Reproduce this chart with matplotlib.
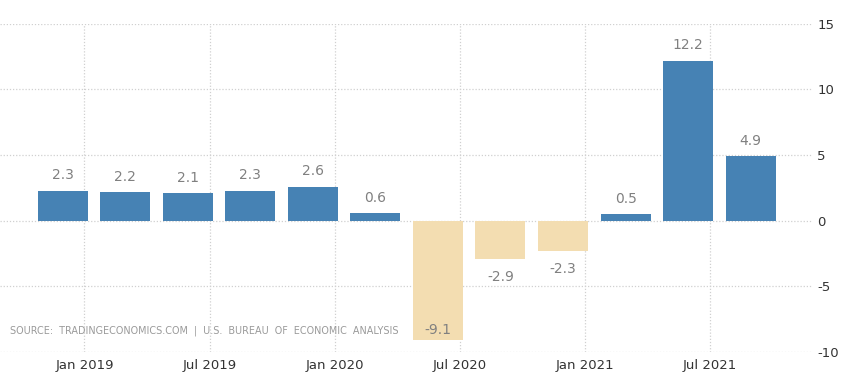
'''
US GDP annual growth rate, quarterly bars
'''
import numpy as np
import matplotlib.pyplot as plt

plt.rcParams['axes.unicode_minus'] = False

values = [2.3, 2.2, 2.1, 2.3, 2.6, 0.6, -9.1, -2.9, -2.3, 0.5, 12.2, 4.9]
tick_labels = ['Jan 2019', 'Jul 2019', 'Jan 2020', 'Jul 2020', 'Jan 2021', 'Jul 2021']
y_ticks = [-10, -5, 0, 5, 10, 15]
source = 'SOURCE:  TRADINGECONOMICS.COM  |  U.S.  BUREAU  OF  ECONOMIC  ANALYSIS'

pos_color = '#4682b4'
neg_color = '#f3ddb1'

x = np.arange(len(values))
colors = [pos_color if v >= 0 else neg_color for v in values]

fig = plt.figure(figsize=(8.67, 3.87), dpi=100)
ax = fig.add_axes([0.0, 0.0904, 0.938, 0.848])

ax.bar(x, values, width=0.8, color=colors, zorder=2)

ax.set_xlim(-1.0, 12.0)
ax.set_ylim(-10, 15)

# grid
ax.set_xticks(np.arange(len(tick_labels)) * 2 + 0.35)
ax.set_xticklabels(tick_labels)
ax.set_yticks(y_ticks)
ax.grid(True, linestyle=(0, (1, 1.5)), color='#d0d0d0', linewidth=0.9, zorder=0)

ax.yaxis.tick_right()
ax.tick_params(axis='both', length=0, labelsize=9.5, colors='#333333')
ax.tick_params(axis='y', pad=3)
ax.tick_params(axis='x', pad=5)
for s in ax.spines.values():
    s.set_visible(False)

# value labels
for xi, v in zip(x, values):
    if v >= 0:
        ax.annotate('%.1f' % v, (xi, v), xytext=(0, 6), textcoords='offset points',
                    ha='center', va='bottom', fontsize=10, color='#808080')
    elif v < -8:
        ax.annotate('%.1f' % v, (xi, v), xytext=(0, 7), textcoords='offset points',
                    ha='center', va='center', fontsize=10, color='#808080')
    else:
        ax.annotate('%.1f' % v, (xi, v), xytext=(0, -13), textcoords='offset points',
                    ha='center', va='center', fontsize=10, color='#808080')

ax.text(10 / 813, (220 - 330) / 13.12 / 25 + 0.4, source, transform=ax.transAxes,
        fontsize=6.9, color='#9a9a9a', va='center', ha='left')

fig.savefig('out.png', dpi=100)
